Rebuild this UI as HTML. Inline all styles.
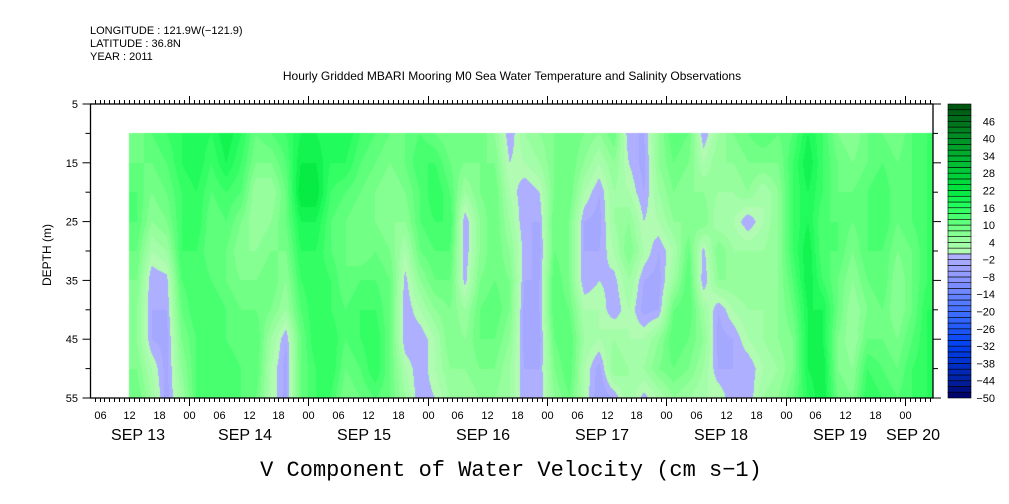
<!DOCTYPE html>
<html><head><meta charset="utf-8"><style>
body{margin:0;background:#fff;width:1009px;height:504px;overflow:hidden;font-family:"Liberation Sans",sans-serif}
#wrap{position:relative;width:1009px;height:504px}
svg{position:absolute;left:0;top:0}
</style></head><body><div id="wrap">
<canvas id="cv" width="1009" height="504" style="position:absolute;left:0;top:0"></canvas>
<svg id="sv" width="1009" height="504">
<g font-size="11" fill="#000">
<text x="90" y="34">LONGITUDE : 121.9W(−121.9)</text>
<text x="90" y="47">LATITUDE : 36.8N</text>
<text x="90" y="60">YEAR : 2011</text>
</g>
<text x="512" y="80" font-size="12" text-anchor="middle">Hourly Gridded MBARI Mooring M0 Sea Water Temperature and Salinity Observations</text>
<text transform="translate(51,255) rotate(-90)" font-size="12" text-anchor="middle">DEPTH (m)</text>
<text x="511" y="476" font-family="Liberation Mono,monospace" font-size="22" text-anchor="middle">V Component of Water Velocity (cm s−1)</text>
</svg>
</div>
<script>
// data: columns every 3 hours from Sep13 12:00; rows depths 10..55 step 5 (cm/s)
const depths=[10,15,20,25,30,35,40,45,50,55];
const startHour=12; // hours after Sep13 00
const stepHours=3;
const colA=[
[8,10,12,12,10,8,6,6,8,10],[12,10,8,6,2,-2,-2,-2,2,4],[14,12,10,8,4,-1,-2,-3,-3,-3],[16,16,14,14,14,12,10,8,6,4],
[18,18,16,16,14,14,14,12,12,12],[16,14,12,10,10,12,14,14,14,12],[20,18,14,12,10,10,12,12,14,14],[16,14,12,8,6,8,10,10,12,12],
[10,8,4,4,6,8,10,12,12,10],[12,8,4,6,8,10,8,4,2,2],[14,12,10,10,8,6,4,-2,-3,-3],[18,20,22,18,16,14,12,10,10,10],
[18,20,22,18,16,16,16,16,14,14],[16,16,14,12,12,14,14,16,16,14],[18,16,12,10,10,10,12,12,10,8],[14,12,10,8,8,12,14,14,12,10],
[12,10,8,8,10,12,14,16,16,12],[10,8,6,6,8,10,10,10,10,10],[10,10,8,6,2,-1,-2,-2,2,4],[12,14,12,12,10,6,2,-2,-2,-2],
[10,14,16,14,12,10,6,2,2,0],[8,10,12,14,12,10,8,8,6,4],[10,8,4,-2,-2,-1,4,6,6,4],[10,8,8,6,6,8,10,10,8,6],
[6,8,10,10,10,10,12,10,8,6],[-2,0,2,4,6,8,8,6,4,4],[4,2,-2,-2,-1,-2,-3,-3,-2,-2]];
const colB=[
[6,4,0,-2,-3,-2,-2,-3,-2,-2],[8,8,8,10,10,12,12,10,8,6],[10,10,10,8,8,8,10,12,12,10],[8,6,2,-2,-2,-2,2,4,2,2],
[6,2,-2,-3,-2,0,2,2,-3,-4],[10,6,4,4,2,-1,-2,4,6,-2],[-2,0,2,6,8,4,2,2,4,4],[-2,-3,-2,0,2,-2,-3,2,4,-1],
[6,6,4,2,-2,-3,-2,6,8,2],[12,10,8,6,2,4,10,12,10,6],[10,8,6,6,10,12,12,10,8,4],[-2,2,6,8,-1,-2,4,6,4,2],
[4,6,4,2,8,6,-2,-3,-2,2],[8,6,4,2,4,6,2,-2,-2,-2],[10,8,6,-2,4,6,4,2,-2,-2],[12,8,2,2,4,4,4,4,2,4],
[10,8,6,6,6,6,6,6,4,6],[12,14,14,14,14,12,10,8,8,10],[18,20,18,18,20,20,18,18,18,16],[14,14,14,12,12,14,18,18,20,20],
[8,10,10,12,12,10,10,8,8,10],[6,8,10,10,8,6,4,4,6,8],[10,10,12,12,12,10,8,10,14,16],[10,12,14,14,12,12,10,10,12,14],
[8,10,10,10,8,6,6,8,10,12],[12,12,12,12,10,10,10,12,14,14],[14,14,14,14,14,14,16,16,16,16]];
const cols=colA.concat(colB);
const cbLevels=[]; for(let v=-50;v<52;v+=2) cbLevels.push(v);
const cbLabels=[46,40,34,28,22,16,10,4,-2,-8,-14,-20,-26,-32,-38,-44,-50];
const yTicks=[5,15,25,35,45,55];
const hourLabels=["06","12","18","00"];
const dateLabels=[["SEP 13",138],["SEP 14",245],["SEP 15",364],["SEP 16",483],["SEP 17",602],["SEP 18",721],["SEP 19",840],["SEP 20",913]];

const PL=90.5,PR=933,PT=104,PB=398;
const day0=69.7,pxDay=119.3;
const xOf=h=>day0+h*pxDay/24;
const yOf=d=>PT+(d-5)*(PB-PT)/50;
const hMin=(PL-day0)/pxDay*24, hMax=(PR-day0)/pxDay*24;

function lerpC(stops,v){for(let i=0;i<stops.length-1;i++){const a=stops[i],b=stops[i+1];if(v>=a[0]&&v<=b[0]){const t=(v-a[0])/(b[0]-a[0]);return [0,1,2].map(k=>Math.round(a[1][k]+(b[1][k]-a[1][k])*t));}}const s=v<stops[0][0]?stops[0]:stops[stops.length-1];return s[1];}
const pos=[[0,[184,250,184]],[6,[144,255,152]],[10,[104,255,128]],[16,[40,255,96]],[22,[0,232,64]],[34,[0,176,48]],[52,[0,80,16]]];
const neg=[[-50,[0,0,100]],[-44,[0,32,160]],[-32,[0,64,240]],[-20,[64,112,255]],[-8,[144,152,255]],[0,[178,178,255]]];
function color(v){const lv=Math.floor(v/2)*2+1;return lv>0?lerpC(pos,lv):lerpC(neg,lv);}

const cv=document.getElementById('cv'),ctx=cv.getContext('2d');
const x0=Math.round(xOf(startHour)),x1=Math.round(PR),y0=Math.round(yOf(depths[0])),y1=Math.round(PB);
const img=ctx.createImageData(x1-x0,y1-y0);
const nC=cols.length;
for(let py=0;py<y1-y0;py++){
 const d=5+(y0+py+0.5-PT)*50/(PB-PT);
 let fr=(d-depths[0])/(depths[1]-depths[0]);fr=Math.max(0,Math.min(depths.length-1,fr));
 const r0=Math.min(depths.length-2,Math.floor(fr)),tr=fr-r0;
 for(let px=0;px<x1-x0;px++){
  const h=(x0+px+0.5-day0)/pxDay*24;
  let fc=(h-startHour)/stepHours-0.5;fc=Math.max(0,Math.min(nC-1,fc));
  const c0=Math.min(nC-2,Math.floor(fc)),tc=fc-c0;
  const v=(cols[c0][r0]*(1-tc)+cols[c0+1][r0]*tc)*(1-tr)+(cols[c0][r0+1]*(1-tc)+cols[c0+1][r0+1]*tc)*tr;
  const c=color(v);const i=(py*(x1-x0)+px)*4;
  img.data[i]=c[0];img.data[i+1]=c[1];img.data[i+2]=c[2];img.data[i+3]=255;
 }
}
ctx.putImageData(img,x0,y0);

const sv=document.getElementById('sv'),NS="http://www.w3.org/2000/svg";
function mk(tag,at,txt){const e=document.createElementNS(NS,tag);for(const k in at)e.setAttribute(k,at[k]);if(txt!==undefined)e.textContent=txt;sv.appendChild(e);return e;}
let e=mk('rect',{x:PL,y:PT,width:PR-PL,height:PB-PT,fill:'none',stroke:'#000','stroke-width':1.3});


for(let h=Math.ceil(hMin);h<=hMax;h++){
 const x=Math.round(xOf(h))+0.5,major=h%24===0;
 let t=mk('line',{x1:x,x2:x,y1:PT,y2:PT-(major?8:4),stroke:'#000'});
 
 
 t=mk('line',{x1:x,x2:x,y1:PB,y2:PB+(major?8:4),stroke:'#000'});
 
 
 if(h%6===0){t=mk('text',{x:x,y:419,'font-size':11,'text-anchor':'middle'},hourLabels[((h/6)%4+3)%4]);
 
 }
}
dateLabels.forEach(dl=>{const t=mk('text',{x:dl[1],y:440,'font-size':16,'text-anchor':'middle'},dl[0]);
 
 });
yTicks.forEach(d=>{const y=yOf(d);
 let t=mk('line',{x1:PL-8,x2:PL,y1:y,y2:y,stroke:'#000'});
 
 
 t=mk('text',{x:78,y:y+4,'font-size':11,'text-anchor':'end'},String(d));
 
 
 t=mk('line',{x1:PR,x2:PR+8,y1:y,y2:y,stroke:'#000'});
 
 });
[10,20,30,40,50].forEach(d=>{const y=yOf(d);
 let t=mk('line',{x1:PL-5,x2:PL,y1:y,y2:y,stroke:'#000'});
 
 
 t=mk('line',{x1:PR,x2:PR+5,y1:y,y2:y,stroke:'#000'});
 
 });
// colorbar
const CBL=948,CBR=971,CBT=104,CBB=398,cbMin=-50,cbMax=52;
const cbY=v=>CBB-(v-cbMin)*(CBB-CBT)/(cbMax-cbMin);
cbLevels.forEach(v=>{const c=color(v+1);
 const r=mk('rect',{x:CBL,y:cbY(v+2),width:CBR-CBL,height:cbY(v)-cbY(v+2),fill:`rgb(${c[0]},${c[1]},${c[2]})`,stroke:'#000','stroke-width':0.6});
 
 });
cbLabels.forEach(v=>{const t=mk('text',{x:995,y:cbY(v)+4,'font-size':11,'text-anchor':'end'},v<0?'−'+(-v):String(v));
 
 });
</script></body></html>
